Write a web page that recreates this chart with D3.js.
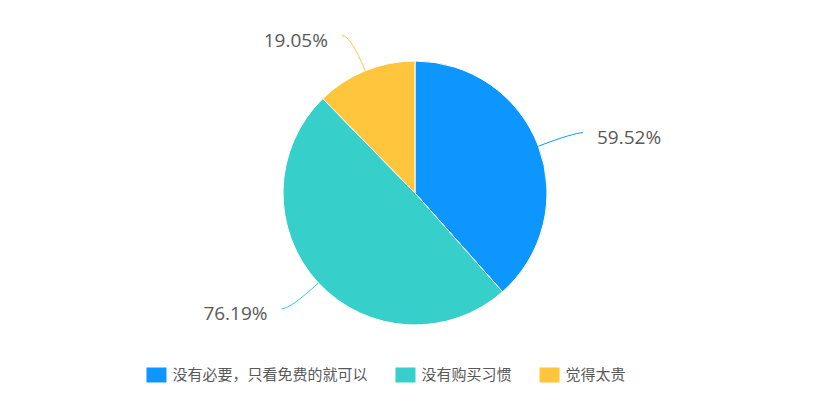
<!DOCTYPE html>
<html lang="zh">
<head>
<meta charset="utf-8">
<title>pie</title>
<script src="https://cdn.jsdelivr.net/npm/d3@7"></script>
<style>
  body { margin: 0; background: #fff; }
  text { font-family: "Noto Sans CJK SC", "Noto Sans", sans-serif; }
  .pct { font-family: "Open Sans", "Noto Sans", sans-serif; font-size: 19px; fill: #595959; }
  .legend-text { font-size: 15px; fill: #595959; }
</style>
</head>
<body>
<div id="chart"></div>
<script>
// data
var categories = ["没有必要，只看免费的就可以", "没有购买习惯", "觉得太贵"];
var values = [59.52, 76.19, 19.05];
var colors = ["#0e96ff", "#36cfc9", "#ffc53d"];

var width = 830, height = 415,
    cx = 415, cy = 193, radius = 132,
    legendCenter = 386, legendY = 375;

var svg = d3.select("#chart").append("svg")
    .attr("width", width)
    .attr("height", height);

var color = d3.scaleOrdinal().domain(categories).range(colors);

var pie = d3.pie().sort(null).value(function(d, i) { return values[i]; });
var arcs = pie(categories);

var arc = d3.arc().innerRadius(0).outerRadius(radius);

var g = svg.append("g").attr("transform", "translate(" + cx + "," + cy + ")");

g.selectAll("path.slice")
    .data(arcs)
    .enter().append("path")
    .attr("class", "slice")
    .attr("d", arc)
    .attr("fill", function(d) { return color(d.data); })
    .attr("stroke", "#fff")
    .attr("stroke-width", 1);

// label lines: from the arc, curving out to a short horizontal end
var len1 = 38, len2 = 9;

function midAngle(d) { return (d.startAngle + d.endAngle) / 2; }
function side(d) { return Math.sin(midAngle(d)) >= 0 ? 1 : -1; }

function linePoints(d) {
    var a = midAngle(d);
    var p0 = d3.pointRadial(a, radius);
    var p1 = d3.pointRadial(a, radius + len1);
    var p2 = [p1[0] + side(d) * len2, p1[1]];
    return [p0, p1, p2];
}

g.selectAll("path.leader")
    .data(arcs)
    .enter().append("path")
    .attr("class", "leader")
    .attr("d", function(d) {
        var p = linePoints(d);
        return "M" + p[0] + "Q" + p[1] + " " + p[2];
    })
    .attr("fill", "none")
    .attr("stroke", function(d) { return color(d.data); })
    .attr("stroke-width", 1);

g.selectAll("text.pct")
    .data(arcs)
    .enter().append("text")
    .attr("class", "pct")
    .attr("x", function(d) { return linePoints(d)[2][0] + side(d) * 14; })
    .attr("y", function(d) { return linePoints(d)[2][1] + 4; })
    .attr("dominant-baseline", "central")
    .attr("text-anchor", function(d) { return side(d) > 0 ? "start" : "end"; })
    .text(function(d, i) { return values[i].toFixed(2) + "%"; });

// legend
var legend = svg.append("g").attr("class", "legend");
var items = legend.selectAll("g.item")
    .data(categories)
    .enter().append("g")
    .attr("class", "item");

items.append("rect")
    .attr("width", 20)
    .attr("height", 15)
    .attr("y", -7.5)
    .attr("fill", function(d) { return color(d); });

items.append("text")
    .attr("class", "legend-text")
    .attr("x", 26)
    .attr("dy", "0.35em")
    .text(function(d) { return d; });

// one row of legend items
var gap = 28, x = 0, offsets = [];
items.each(function() {
    offsets.push(x);
    x += this.getBBox().width + gap;
});
var startX = legendCenter - (x - gap) / 2;
items.attr("transform", function(d, i) {
    return "translate(" + (startX + offsets[i]) + "," + legendY + ")";
});
</script>
</body>
</html>
